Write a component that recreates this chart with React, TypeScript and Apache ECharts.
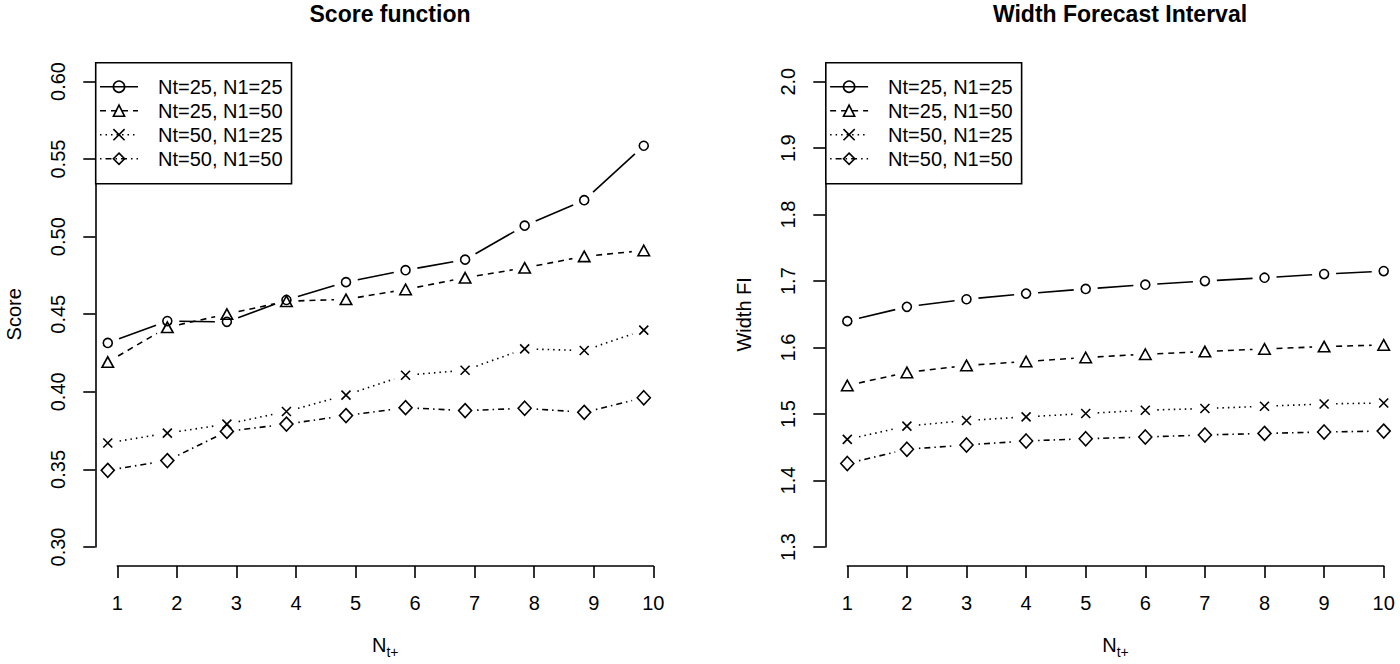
import React, { useEffect, useRef } from 'react';
import * as echarts from 'echarts';

// legend / group names
const groupNames = ['Nt=25, N1=25', 'Nt=25, N1=50', 'Nt=50, N1=25', 'Nt=50, N1=50'];

// Score function panel (points sit a bit left of the integer ticks in the original)
const scoreX = [0.84, 1.84, 2.84, 3.84, 4.84, 5.84, 6.84, 7.84, 8.84, 9.84];
const score25_25 = [0.4315, 0.4456, 0.4451, 0.4592, 0.4707, 0.4784, 0.4852, 0.5071, 0.5235, 0.5586];
const score25_50 = [0.4192, 0.4416, 0.4501, 0.4584, 0.4596, 0.466, 0.4735, 0.4799, 0.4873, 0.4911];
const score50_25 = [0.367, 0.3734, 0.3792, 0.3873, 0.3979, 0.4107, 0.4139, 0.4277, 0.4266, 0.4398];
const score50_50 = [0.3494, 0.3557, 0.3745, 0.3792, 0.3847, 0.3898, 0.3879, 0.3894, 0.3868, 0.3962];
const scoreRange = [0.3, 0.6];
const scoreStep = 0.05;

// Width forecast interval panel
const widthX = [1, 2, 3, 4, 5, 6, 7, 8, 9, 10];
const width25_25 = [1.6398, 1.6613, 1.6727, 1.6812, 1.6882, 1.6946, 1.7001, 1.7051, 1.7106, 1.7151];
const width25_50 = [1.543, 1.5626, 1.5731, 1.5791, 1.5851, 1.59, 1.594, 1.598, 1.6015, 1.604];
const width50_25 = [1.4619, 1.4819, 1.4903, 1.4958, 1.5008, 1.5058, 1.5083, 1.5118, 1.5152, 1.5167];
const width50_50 = [1.4256, 1.447, 1.4535, 1.4595, 1.4629, 1.4655, 1.4685, 1.4709, 1.473, 1.4744];
const widthRange = [1.3, 2.0];
const widthStep = 0.1;

const xRange = [1, 10];

const FONT = '"Liberation Sans", Arial, Helvetica, sans-serif';
const LW = 1.6;
const GAP = 12; // R type="b" leaves a gap round each point

const markers: { symbol: string; size: number | number[]; dash: any }[] = [
  { symbol: 'circle', size: 9, dash: 'solid' },
  { symbol: 'triangle', size: [11.5, 10.5], dash: [6, 5] },
  { symbol: 'path://M0,0L10,10M10,0L0,10', size: 9, dash: [1.5, 4] },
  { symbol: 'diamond', size: [13, 14], dash: [1.5, 4, 6, 4] },
];

const buildSeries = (idx: number, xs: number[], groups: number[][]) =>
  groups.flatMap((vals, k) => {
    const m = markers[k];
    const pts = xs.map((x, i) => [x, vals[i]]);
    const segs = pts.slice(1).map((p, i) => [pts[i][0], pts[i][1], p[0], p[1]]);
    return [
      {
        type: 'custom',
        name: `seg-${idx}-${k}`,
        xAxisIndex: idx,
        yAxisIndex: idx,
        data: segs,
        encode: { x: [0, 2], y: [1, 3] },
        silent: true,
        z: 2,
        renderItem: (_p: any, api: any) => {
          const a = api.coord([api.value(0), api.value(1)]);
          const b = api.coord([api.value(2), api.value(3)]);
          const dx = b[0] - a[0];
          const dy = b[1] - a[1];
          const len = Math.hypot(dx, dy);
          if (len <= 2 * GAP) return null;
          const ux = dx / len;
          const uy = dy / len;
          return {
            type: 'line',
            shape: { x1: a[0] + ux * GAP, y1: a[1] + uy * GAP, x2: b[0] - ux * GAP, y2: b[1] - uy * GAP },
            style: { stroke: '#000', lineWidth: LW, lineDash: m.dash === 'solid' ? null : m.dash, fill: null },
          };
        },
      },
      {
        type: 'line',
        name: groupNames[k],
        xAxisIndex: idx,
        yAxisIndex: idx,
        data: pts,
        symbol: m.symbol,
        symbolSize: m.size,
        showSymbol: true,
        clip: false,
        z: 3,
        silent: true,
        lineStyle: { color: '#000', width: LW, type: m.dash, opacity: 0 },
        itemStyle: { color: 'transparent', borderColor: '#000', borderWidth: LW },
        emphasis: { disabled: true },
      },
    ];
  });

const axisCommon = {
  axisLine: { show: true, lineStyle: { color: '#000', width: LW } },
  axisTick: { show: true, length: 12, lineStyle: { color: '#000', width: LW } },
  splitLine: { show: false },
};

const App: React.FC = () => {
  const chartRef = useRef<HTMLDivElement>(null);

  useEffect(() => {
    if (!chartRef.current) return;
    const chart = echarts.init(chartRef.current, undefined, { renderer: 'svg' });

    const xAxis = (gridIndex: number) => ({
      type: 'value',
      gridIndex,
      min: xRange[0],
      max: xRange[1],
      interval: 1,
      offset: 19,
      ...axisCommon,
      axisLabel: { color: '#000', fontSize: 20, fontFamily: FONT, margin: 27 },
      name: '{n|N}{s|t+}',
      nameLocation: 'middle',
      nameGap: 69,
      nameTextStyle: {
        color: '#000',
        rich: {
          n: { fontSize: 20, fontFamily: FONT, color: '#000', lineHeight: 24, verticalAlign: 'top' },
          s: { fontSize: 14, fontFamily: FONT, color: '#000', lineHeight: 24, verticalAlign: 'bottom' },
        },
      },
    });

    const yAxis = (gridIndex: number, range: number[], step: number, digits: number, name: string) => ({
      type: 'value',
      gridIndex,
      min: range[0],
      max: range[1],
      interval: step,
      offset: 22,
      ...axisCommon,
      axisLabel: {
        color: '#000',
        fontSize: 20,
        fontFamily: FONT,
        rotate: 90,
        margin: 27,
        formatter: (v: number) => v.toFixed(digits),
      },
      name,
      nameLocation: 'middle',
      nameGap: 71,
      nameTextStyle: { color: '#000', fontSize: 20, fontFamily: FONT },
    });

    const legend = (left: number) => ({
      data: groupNames,
      left,
      top: 62.7,
      orient: 'vertical',
      selectedMode: false,
      padding: [14, 9, 15, 3.5],
      itemGap: 4,
      itemWidth: 38,
      itemHeight: 14,
      borderColor: '#000',
      borderWidth: LW,
      borderRadius: 0,
      backgroundColor: '#fff',
      textStyle: { color: '#000', fontSize: 20, fontFamily: FONT, lineHeight: 20, padding: [0, 0, 0, 15] },
      itemStyle: { borderWidth: LW },
      lineStyle: { width: LW, opacity: 1 },
    });

    const option: any = {
      animation: false,
      backgroundColor: '#fff',
      title: [
        {
          text: 'Score function',
          left: 385,
          top: -3,
          textAlign: 'center',
          textStyle: { fontSize: 23, fontWeight: 'bold', fontFamily: FONT, color: '#000' },
        },
        {
          text: 'Width Forecast Interval',
          left: 1115,
          top: -3,
          textAlign: 'center',
          textStyle: { fontSize: 23, fontWeight: 'bold', fontFamily: FONT, color: '#000' },
        },
      ],
      legend: [legend(95.7), legend(825.8)],
      grid: [
        { left: 117.3, top: 81.5, width: 536, height: 468.5 },
        { left: 847.3, top: 81.7, width: 536.4, height: 468.3 },
      ],
      xAxis: [xAxis(0), xAxis(1)],
      yAxis: [
        yAxis(0, scoreRange, scoreStep, 2, 'Score'),
        yAxis(1, widthRange, widthStep, 1, 'Width FI'),
      ],
      series: [
        ...buildSeries(0, scoreX, [score25_25, score25_50, score50_25, score50_50]),
        ...buildSeries(1, widthX, [width25_25, width25_50, width50_25, width50_50]),
      ],
    };

    chart.setOption(option);
    return () => {
      chart.dispose();
    };
  }, []);

  return (
    <div
      ref={chartRef}
      style={{ position: 'absolute', left: 0, top: 0, width: 1400, height: 664, background: '#fff' }}
    />
  );
};

export default App;
